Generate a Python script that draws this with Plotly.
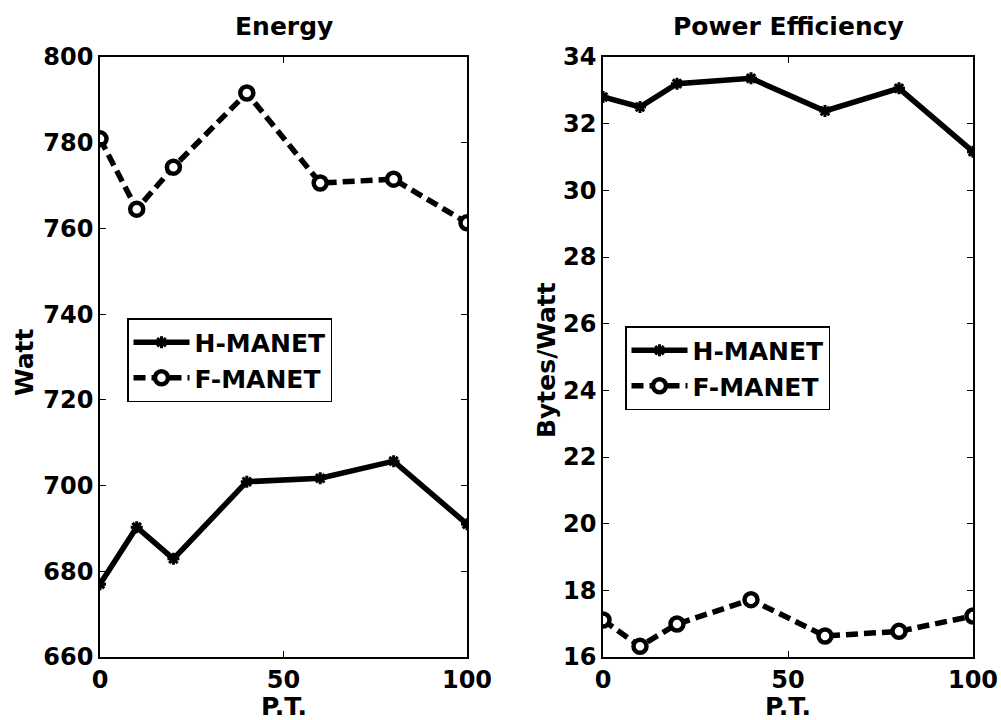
import plotly.graph_objects as go
from plotly.subplots import make_subplots

# Percentage of trusted nodes (P.T.)
pt = [0, 10, 20, 40, 60, 80, 100]

# Energy consumption (Watt)
energy_h_manet = [677.0, 690.3, 682.9, 700.9, 701.7, 705.7, 691.0]
energy_f_manet = [780.9, 764.5, 774.3, 791.6, 770.6, 771.5, 761.3]

# Power efficiency (Bytes/Watt)
eff_h_manet = [32.80, 32.50, 33.20, 33.36, 32.38, 33.06, 31.16]
eff_f_manet = [17.11, 16.32, 16.99, 17.72, 16.63, 16.77, 17.23]

series_names = ["H-MANET", "F-MANET"]
panel_titles = ["Energy", "Power Efficiency"]
y_titles = ["Watt", "Bytes/Watt"]
x_title = "P.T."

FONT = "DejaVu Sans"
BLACK = "#000000"

fig = make_subplots(rows=1, cols=2)

h_style = dict(
    mode="lines+markers",
    line=dict(color=BLACK, width=5.5),
    marker=dict(symbol="asterisk-open", size=10, color=BLACK,
                line=dict(color=BLACK, width=3)),
)
f_style = dict(
    mode="lines+markers",
    line=dict(color=BLACK, width=5.5, dash="12px,6px"),
    marker=dict(symbol="circle", size=13, color="white",
                line=dict(color=BLACK, width=4.5)),
)

fig.add_trace(go.Scatter(x=pt, y=energy_h_manet, name=series_names[0],
                         legend="legend", **h_style), row=1, col=1)
fig.add_trace(go.Scatter(x=pt, y=energy_f_manet, name=series_names[1],
                         legend="legend", **f_style), row=1, col=1)
fig.add_trace(go.Scatter(x=pt, y=eff_h_manet, name=series_names[0],
                         legend="legend2", **h_style), row=1, col=2)
fig.add_trace(go.Scatter(x=pt, y=eff_f_manet, name=series_names[1],
                         legend="legend2", **f_style), row=1, col=2)

W, H = 1001, 720
left_dom = [100 / W, 467 / W]
right_dom = [603 / W, 973 / W]
y_dom = [1 - 657 / H, 1 - 57 / H]

tick_font = dict(family=FONT, size=24, color=BLACK, weight="bold")
axis_common = dict(
    showline=True, linecolor=BLACK, linewidth=1.5, mirror="ticks",
    ticks="inside", ticklen=6, tickwidth=1.2, tickcolor=BLACK,
    showgrid=False, zeroline=False, tickfont=tick_font, automargin=False,
)

fig.update_xaxes(range=[0, 100], tickvals=[0, 50, 100], **axis_common)
fig.update_layout(
    xaxis=dict(domain=left_dom),
    xaxis2=dict(domain=right_dom),
    yaxis=dict(domain=y_dom, range=[660, 800],
               tickvals=[660, 680, 700, 720, 740, 760, 780, 800], **axis_common),
    yaxis2=dict(domain=y_dom, range=[16, 34],
                tickvals=list(range(16, 35, 2)), **axis_common),
)

legend_common = dict(
    bgcolor="white", bordercolor=BLACK, borderwidth=1.5,
    font=dict(family=FONT, size=25, color=BLACK, weight="bold"),
    xanchor="left", yanchor="top", tracegroupgap=0, itemwidth=56,
)
fig.update_layout(
    legend=dict(x=127 / W, y=1 - 318 / H, **legend_common),
    legend2=dict(x=625 / W, y=1 - 326 / H, **legend_common),
)

title_font = dict(family=FONT, size=25, color=BLACK, weight="bold")
annotations = [
    dict(text=panel_titles[0], x=sum(left_dom) / 2, y=1 - 27 / H),
    dict(text=panel_titles[1], x=sum(right_dom) / 2, y=1 - 27 / H),
    dict(text=x_title, x=sum(left_dom) / 2, y=1 - 706 / H),
    dict(text=x_title, x=sum(right_dom) / 2, y=1 - 706 / H),
    dict(text=y_titles[0], x=24 / W, y=1 - 362 / H, textangle=-90),
    dict(text=y_titles[1], x=546 / W, y=1 - 360 / H, textangle=-90),
]
for a in annotations:
    fig.add_annotation(xref="paper", yref="paper", showarrow=False,
                       xanchor="center", yanchor="middle",
                       font=title_font, **a)

fig.update_layout(
    width=W, height=H,
    margin=dict(l=0, r=0, t=0, b=0),
    paper_bgcolor="white", plot_bgcolor="white",
    showlegend=True,
)

fig.write_html("out.html")
